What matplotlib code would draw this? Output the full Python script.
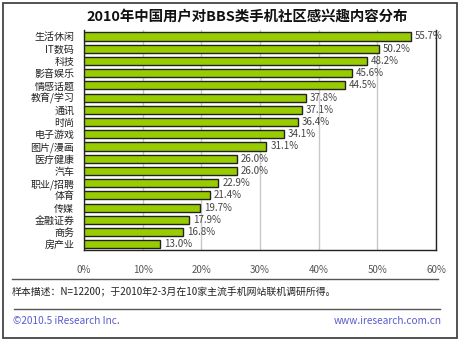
import matplotlib
matplotlib.use("Agg")
import matplotlib.pyplot as plt
from matplotlib.patches import Rectangle
from matplotlib.lines import Line2D

plt.rcParams['font.family'] = ['Noto Sans CJK SC', 'DejaVu Sans']

title = "2010年中国用户对BBS类手机社区感兴趣内容分布"
categories = ["生活休闲", "IT数码", "科技", "影音娱乐", "情感话题", "教育/学习", "通讯", "时尚",
              "电子游戏", "图片/漫画", "医疗健康", "汽车", "职业/招聘", "体育", "传媒", "金融证券",
              "商务", "房产业"]
values = [55.7, 50.2, 48.2, 45.6, 44.5, 37.8, 37.1, 36.4, 34.1, 31.1, 26.0, 26.0, 22.9, 21.4,
          19.7, 17.9, 16.8, 13.0]
xticks = [0, 10, 20, 30, 40, 50, 60]
xticklabels = ["0%", "10%", "20%", "30%", "40%", "50%", "60%"]
note = "样本描述：N=12200；于2010年2-3月在10家主流手机网站联机调研所得。"
footer_left = "©2010.5 iResearch Inc."
footer_right = "www.iresearch.com.cn"

W, H = 460, 341
fig = plt.figure(figsize=(W / 100, H / 100), dpi=100)
fig.patch.set_facecolor("white")

def fx(px):
    return px / W

def fy(py):
    return 1 - py / H

# outer border
fig.add_artist(Rectangle((fx(3), fy(338)), fx(454), (335) / H, transform=fig.transFigure,
                         fill=False, edgecolor="#444444", linewidth=1.3))

ax = fig.add_axes([fx(84), fy(250), fx(352), (250 - 30) / H])
y = list(range(len(categories)))
ax.barh(y, values, height=0.66, color="#99cc00", edgecolor="#222222", linewidth=1.0, zorder=3)
for yi, v in zip(y, values):
    ax.text(v + 0.7, yi, f"{v:.1f}%", va="center", ha="left", fontsize=7, color="#444444", zorder=4)

ax.set_xlim(0, 60)
ax.set_ylim(17.47, -0.53)
ax.set_yticks(y)
ax.set_yticklabels(categories, fontsize=7.2, color="#222222")
ax.set_xticks(xticks)
ax.set_xticklabels(xticklabels, fontsize=7, color="#555555")
ax.tick_params(axis="both", length=0)
ax.tick_params(axis="x", pad=11)
ax.tick_params(axis="y", pad=7)
ax.grid(axis="x", color="#c8c8c8", linewidth=1.0, zorder=0)
ax.set_axisbelow(True)
for s in ["left", "bottom", "right"]:
    ax.spines[s].set_color("#222222")
    ax.spines[s].set_linewidth(1.0)
ax.spines["top"].set_visible(False)

fig.text(fx(247), fy(17), title, ha="center", va="center", fontsize=10.4, fontweight="bold", color="#111111")

fig.add_artist(Line2D([fx(12), fx(438)], [fy(279), fy(279)], transform=fig.transFigure,
                      color="#555555", linewidth=1.0))
fig.text(fx(12), fy(292), note, ha="left", va="center", fontsize=7.1, color="#222222")
fig.add_artist(Line2D([fx(14), fx(440)], [fy(309), fy(309)], transform=fig.transFigure,
                      color="#555555", linewidth=1.0))
fig.text(fx(13), fy(321), footer_left, ha="left", va="center", fontsize=7.3, color="#5a5ad0")
fig.text(fx(442), fy(321), footer_right, ha="right", va="center", fontsize=7.3, color="#5a5ad0")

fig.savefig("out.png", dpi=100, facecolor="white")
